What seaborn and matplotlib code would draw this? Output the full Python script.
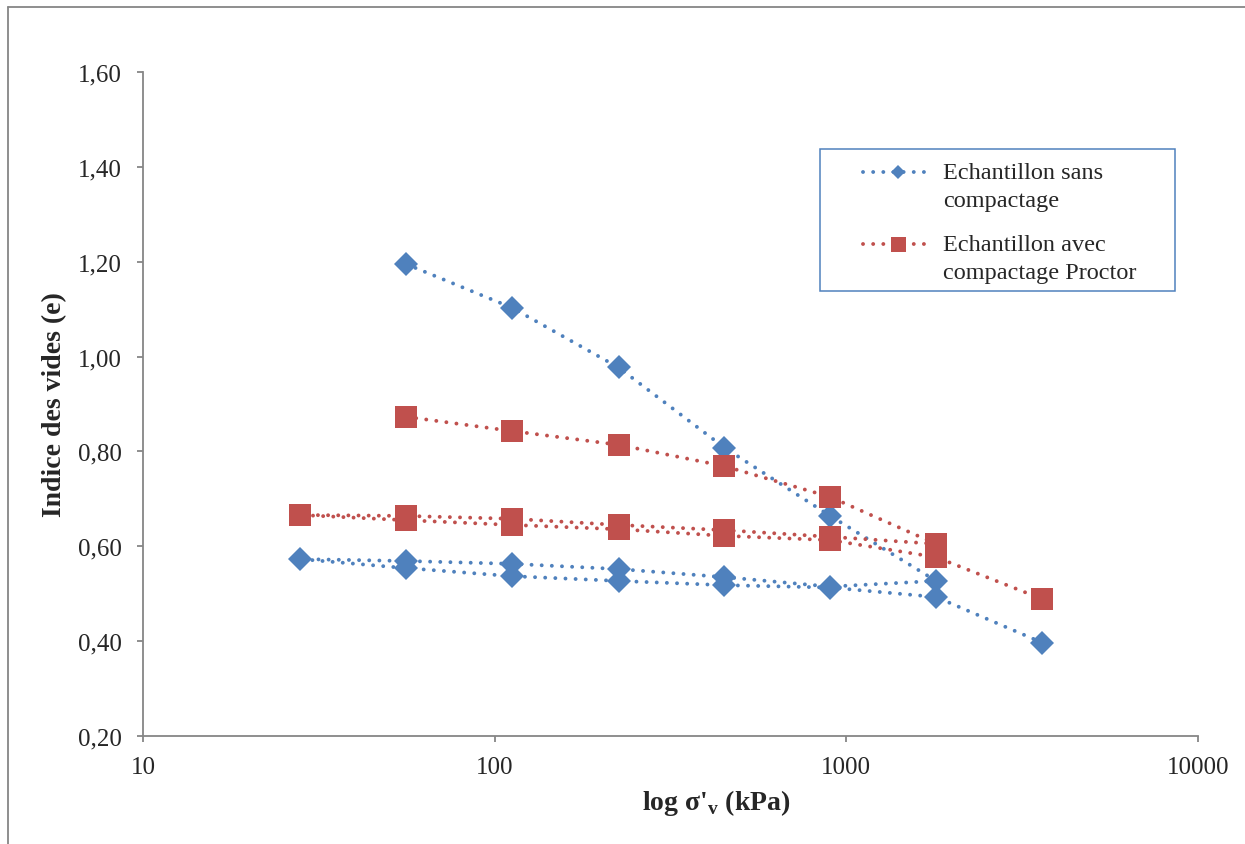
import matplotlib
matplotlib.use("Agg")
import matplotlib.pyplot as plt
import numpy as np
import pandas as pd
import seaborn as sns
from matplotlib.legend_handler import HandlerLine2D
from matplotlib.lines import Line2D
from matplotlib.patches import Rectangle
from matplotlib.ticker import FuncFormatter, NullLocator

# oedometer data: loading, unloading to 28 kPa, reloading to 3600 kPa
sigma = [56, 112, 225, 450, 900, 1800, 900, 450, 225, 112, 56, 28,
         56, 112, 225, 450, 900, 1800, 3600]
e_sans = [1.195, 1.103, 0.977, 0.808, 0.664, 0.527, 0.515, 0.535, 0.552, 0.563,
          0.569, 0.573, 0.554, 0.537, 0.527, 0.518, 0.513, 0.493, 0.397]
e_proctor = [0.873, 0.843, 0.814, 0.769, 0.704, 0.605, 0.620, 0.634, 0.645, 0.658,
             0.664, 0.666, 0.655, 0.645, 0.636, 0.622, 0.613, 0.577, 0.489]
labels = ["Echantillon sans\ncompactage", "Echantillon avec\ncompactage Proctor"]
x_ticks = [10, 100, 1000, 10000]
y_ticks = [0.2, 0.4, 0.6, 0.8, 1.0, 1.2, 1.4, 1.6]

BLUE, RED, GREY = "#4F81BD", "#C0504D", "#868686"
FS = 18        # tick labels
FS_LEG = 17.5  # legend
FS_LAB = 20    # axis titles


class FirstLineHandler(HandlerLine2D):
    # puts the legend key level with the first line of a 2-line label
    def __init__(self, dy, **kw):
        super().__init__(**kw); self.dy = dy

    def create_artists(self, *args, **kw):
        arts = super().create_artists(*args, **kw)
        for a in arts:
            a.set_ydata(np.asarray(a.get_ydata(), dtype=float) + self.dy)
        return arts


sns.set_style("white")
plt.rcParams["font.family"] = ["Liberation Serif", "DejaVu Serif"]
plt.rcParams["mathtext.fontset"] = "custom"
plt.rcParams["mathtext.rm"] = "Liberation Serif:bold"

fig = plt.figure(figsize=(12.45, 8.45), dpi=100)
ax = fig.add_axes([143 / 1245, 1 - 737 / 845, 1055 / 1245, 664 / 845])
ax.set_xscale("log")

dots = dict(linestyle=(0, (0.01, 2.6)), linewidth=2.8, dash_capstyle="round",
            markeredgewidth=0, sort=False, estimator=None, ax=ax)
df1 = pd.DataFrame({"sigma": sigma, "e": e_sans})
df2 = pd.DataFrame({"sigma": sigma, "e": e_proctor})
sns.lineplot(data=df1, x="sigma", y="e", color=BLUE, marker="D", markersize=12.5,
             markerfacecolor=BLUE, label=labels[0], **dots)
sns.lineplot(data=df2, x="sigma", y="e", color=RED, marker="s", markersize=15.5,
             markerfacecolor=RED, label=labels[1], **dots)

ax.set_xlim(10, 10000)
ax.set_ylim(0.2, 1.6)
ax.set_xticks(x_ticks)
ax.xaxis.set_minor_locator(NullLocator())
ax.xaxis.set_major_formatter(FuncFormatter(lambda v, p: f"{v:.0f}"))
ax.set_yticks(y_ticks)
ax.yaxis.set_major_formatter(FuncFormatter(lambda v, p: f"{v:.2f}".replace(".", ",")))

for s in ["top", "right"]:
    ax.spines[s].set_visible(False)
for s in ["left", "bottom"]:
    ax.spines[s].set_color(GREY); ax.spines[s].set_linewidth(1.3)
ax.tick_params(axis="both", length=4.3, width=1.3, color=GREY, labelsize=FS,
               direction="out", left=True, bottom=True)
ax.tick_params(axis="y", pad=11)
ax.tick_params(axis="x", pad=10)

ax.set_ylabel("Indice des vides (e)", fontsize=FS_LAB, fontweight="bold")
ax.yaxis.set_label_coords(-0.072, 0.5)
ax.set_xlabel("log σ'$_\\mathregular{v}$ (kPa)", fontsize=FS_LAB, fontweight="bold")
ax.xaxis.set_label_coords(0.543, -0.077)

# legend box + content
ax.add_patch(Rectangle((0.642, 0.670), 0.336, 0.214, transform=ax.transAxes,
                       fill=False, edgecolor=BLUE, lw=1.1, clip_on=False))
h, l = ax.get_legend_handles_labels()
leg = ax.legend(h, l, loc="upper left", bbox_to_anchor=(0.6825, 0.865),
                frameon=False, borderpad=0, borderaxespad=0, handlelength=2.9,
                handletextpad=0.38, labelspacing=0.95, fontsize=FS_LEG,
                handler_map={Line2D: FirstLineHandler(10)})
for t in leg.get_texts():
    t.set_linespacing(1.45)
leg.legend_handles[0].set_markersize(7)
leg.legend_handles[1].set_markersize(10.8)

# outer chart frame
fig.add_artist(Line2D([8 / 1245, 8 / 1245], [0, 1 - 8 / 845], transform=fig.transFigure,
                      color=GREY, lw=1.3))
fig.add_artist(Line2D([8 / 1245, 1], [1 - 8 / 845, 1 - 8 / 845], transform=fig.transFigure,
                      color=GREY, lw=1.3))

fig.savefig("out.png", dpi=100)
